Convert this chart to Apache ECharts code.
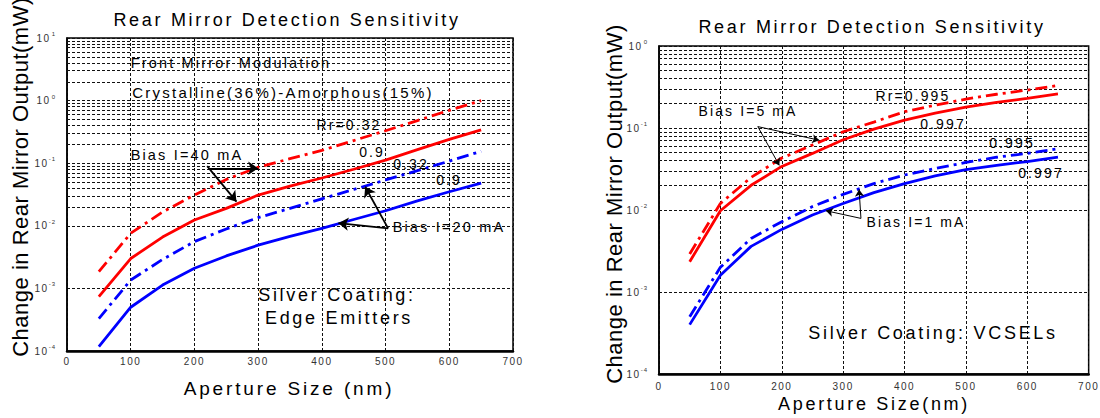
<!DOCTYPE html>
<html>
<head>
<meta charset="utf-8">
<script src="https://cdn.jsdelivr.net/npm/echarts@6/dist/echarts.min.js"></script>
<style>
  html, body { margin: 0; padding: 0; background: #fff; }
  #main { width: 1100px; height: 418px; }
  /* the scan uses widely spaced lettering */
  #main text { letter-spacing: 0.15em; }
  #main text[style*="22px"] { letter-spacing: 0.5px; }
</style>
</head>
<body>
<div id="main"></div>
<script>
/* Rear mirror detection sensitivity — two log plots side by side */

const FONT = '"Liberation Sans", Arial, sans-serif';

// aperture size (nm), shared by every curve
const aperture = [50, 100, 150, 200, 250, 300, 350, 400, 450, 500, 550, 600, 650];

// edge emitters (left): change in rear mirror output, mW
const edge40mA_Rr032 = [1.85e-3, 7.6e-3, 0.0166, 0.031, 0.055, 0.086, 0.118, 0.16, 0.23, 0.33, 0.48, 0.70, 1.0];
const edge40mA_Rr09 = [7.4e-4, 3.0e-3, 6.6e-3, 0.0124, 0.019, 0.031, 0.043, 0.058, 0.08, 0.112, 0.165, 0.24, 0.34];
const edge20mA_Rr032 = [3.3e-4, 1.36e-3, 2.9e-3, 5.6e-3, 8.9e-3, 0.0135, 0.019, 0.027, 0.038, 0.054, 0.076, 0.108, 0.155];
const edge20mA_Rr09 = [1.17e-4, 5.0e-4, 1.13e-3, 2.1e-3, 3.3e-3, 4.9e-3, 6.8e-3, 9.1e-3, 0.0126, 0.0174, 0.025, 0.035, 0.048];

// VCSELs (right)
const vcsel5mA_Rr0995 = [2.9e-3, 0.012, 0.025, 0.043, 0.062, 0.09, 0.118, 0.158, 0.19, 0.225, 0.258, 0.29, 0.33];
const vcsel5mA_Rr0997 = [2.34e-3, 9.8e-3, 0.020, 0.034, 0.049, 0.072, 0.097, 0.125, 0.152, 0.18, 0.205, 0.23, 0.26];
const vcsel1mA_Rr0995 = [5.0e-4, 2.0e-3, 4.5e-3, 7.2e-3, 0.011, 0.0155, 0.021, 0.0267, 0.032, 0.038, 0.044, 0.049, 0.056];
const vcsel1mA_Rr0997 = [4.0e-4, 1.6e-3, 3.6e-3, 5.8e-3, 8.7e-3, 0.012, 0.0163, 0.021, 0.026, 0.031, 0.035, 0.039, 0.044];

// axis ranges and ticks
const xTicks = [0, 100, 200, 300, 400, 500, 600, 700];
const leftDecades = [-4, 1];
const rightDecades = [-4, 0];

// arrow annotations, in data units: [from, to]
const edgeArrows = [
  [[222, 0.083], [300, 0.083]],
  [[220, 0.09], [266, 0.0243]],
  [[504, 0.0091], [426, 0.011]],
  [[504, 0.0091], [468, 0.042]],
];
const vcselArrows = [
  [[161, 0.104], [261, 0.071]],
  [[161, 0.104], [196, 0.035]],
  [[329, 0.0079], [272, 0.0098]],
  [[329, 0.0079], [326, 0.0178]],
];

const RED = '#ff0000';
const BLUE = '#0000ff';
const DASHDOT = [12, 5, 3, 5];

function pairs(vals) {
  return aperture.map((a, i) => [a, vals[i]]);
}

// minor grid lines at 2..9 x 10^k
function minorGrid(range) {
  const out = [];
  for (let k = range[0]; k < range[1]; k++) {
    for (let m = 2; m <= 9; m++) out.push({ yAxis: m * Math.pow(10, k) });
  }
  return out;
}

function arrowLines(list) {
  return list.map((a) => [{ coord: a[0] }, { coord: a[1] }]);
}

function powLabel(v) {
  const e = Math.round(Math.log10(v));
  return '{b|10}{e|' + e + '}';
}

const gridLine = { color: '#111', type: [3, 2], width: 1 };

function xAxisFor(gi, margin) {
  return {
    type: 'value', gridIndex: gi, min: xTicks[0], max: xTicks[xTicks.length - 1], interval: 100,
    axisLine: { show: true, onZero: false, lineStyle: { color: '#000', width: 2.5 } },
    axisTick: { show: false },
    splitLine: { show: true, lineStyle: gridLine },
    axisLabel: { fontSize: 10, color: '#333', fontFamily: FONT, margin: margin },
  };
}

function yAxisFor(gi, range) {
  return {
    type: 'log', logBase: 10, gridIndex: gi,
    min: Math.pow(10, range[0]), max: Math.pow(10, range[1]),
    splitNumber: range[1] - range[0],
    axisLine: { show: true, lineStyle: { color: '#000', width: 1.5 } },
    axisTick: { show: false },
    splitLine: { show: true, lineStyle: gridLine },
    axisLabel: {
      margin: 11,
      formatter: powLabel,
      rich: {
        b: { fontSize: 10, color: '#333', fontFamily: FONT },
        e: { fontSize: 6, color: '#333', fontFamily: FONT, padding: [0, 0, 8, 2] },
      },
    },
  };
}

function curve(name, gi, vals, color, dashed, extra) {
  return Object.assign({
    name: name, type: 'line', xAxisIndex: gi, yAxisIndex: gi,
    data: pairs(vals), symbol: 'none', smooth: false,
    lineStyle: { color: color, width: 2.8, type: dashed ? DASHDOT : 'solid' },
    z: 3,
  }, extra || {});
}

function gridMarks(range) {
  return {
    markLine: {
      silent: true, symbol: 'none', z: 1, animation: false,
      label: { show: false },
      lineStyle: gridLine,
      data: minorGrid(range),
    },
  };
}

function arrowMarks(list, size, width) {
  return {
    markLine: {
      silent: true, symbol: ['none', 'arrow'], symbolSize: size, z: 6, animation: false,
      label: { show: false },
      lineStyle: { color: '#000', width: width, type: 'solid' },
      data: arrowLines(list),
    },
  };
}

function note(text, x, y, size, rot) {
  return {
    type: 'text', x: x, y: y, rotation: rot || 0, silent: true, z: 10,
    style: { text: text, fontSize: size, fontFamily: FONT, fill: '#000', align: 'center', verticalAlign: 'middle' },
  };
}

const chart = echarts.init(document.getElementById('main'), null, { renderer: 'svg' });

chart.setOption({
  animation: false,
  backgroundColor: '#fff',
  grid: [
    { left: 67, top: 38, right: 587, bottom: 67, show: true, borderColor: '#000', borderWidth: 1.5, backgroundColor: 'transparent' },
    { left: 659, top: 46, right: 10, bottom: 44, show: true, borderColor: '#000', borderWidth: 1.5, backgroundColor: 'transparent' },
  ],
  xAxis: [xAxisFor(0, 5), xAxisFor(1, 7)],
  yAxis: [yAxisFor(0, leftDecades), yAxisFor(1, rightDecades)],
  series: [
    curve('Rr=0.9, Bias I=20 mA', 0, edge20mA_Rr09, BLUE, false, gridMarks(leftDecades)),
    curve('Rr=0.32, Bias I=20 mA', 0, edge20mA_Rr032, BLUE, true),
    curve('Rr=0.9, Bias I=40 mA', 0, edge40mA_Rr09, RED, false, arrowMarks(edgeArrows, 10, 1.8)),
    curve('Rr=0.32, Bias I=40 mA', 0, edge40mA_Rr032, RED, true),
    curve('Rr=0.997, Bias I=1 mA', 1, vcsel1mA_Rr0997, BLUE, false, gridMarks(rightDecades)),
    curve('Rr=0.995, Bias I=1 mA', 1, vcsel1mA_Rr0995, BLUE, true),
    curve('Rr=0.997, Bias I=5 mA', 1, vcsel5mA_Rr0997, RED, false, arrowMarks(vcselArrows, 7, 1)),
    curve('Rr=0.995, Bias I=5 mA', 1, vcsel5mA_Rr0995, RED, true),
  ],
  graphic: [
    // left panel
    note('Rear Mirror Detection Sensitivity', 287, 20, 18),
    note('Aperture Size (nm)', 289, 388, 19),
    note('Change in Rear Mirror Output(mW)', 20, 177, 22, Math.PI / 2),
    note('Front Mirror Modulation', 231, 63, 14.5),
    note('Crystalline(36%)-Amorphous(15%)', 283, 92, 15),
    note('Rr=0.32', 349, 125, 14),
    note('0.9', 372, 152, 14),
    note('0.32', 411, 164, 14),
    note('0.9', 449, 180, 14),
    note('Bias I=40 mA', 187, 155, 14.5),
    note('Bias I=20 mA', 449, 227, 14.5),
    note('Silver Coating:', 337, 295, 18),
    note('Edge Emitters', 339, 318, 18),
    // right panel
    note('Rear Mirror Detection Sensitivity', 872, 27, 18),
    note('Aperture Size(nm)', 874, 404, 18),
    note('Change in Rear Mirror Output(mW)', 614, 204, 22, Math.PI / 2),
    note('Bias I=5 mA', 748, 111, 14),
    note('Rr=0.995', 913, 96, 14),
    note('0.997', 943, 124, 14),
    note('0.995', 1012, 143, 14),
    note('0.997', 1041, 173, 14),
    note('Bias I=1 mA', 916, 222, 14),
    note('Silver Coating: VCSELs', 933, 333, 18),
  ],
});
</script>
</body>
</html>
